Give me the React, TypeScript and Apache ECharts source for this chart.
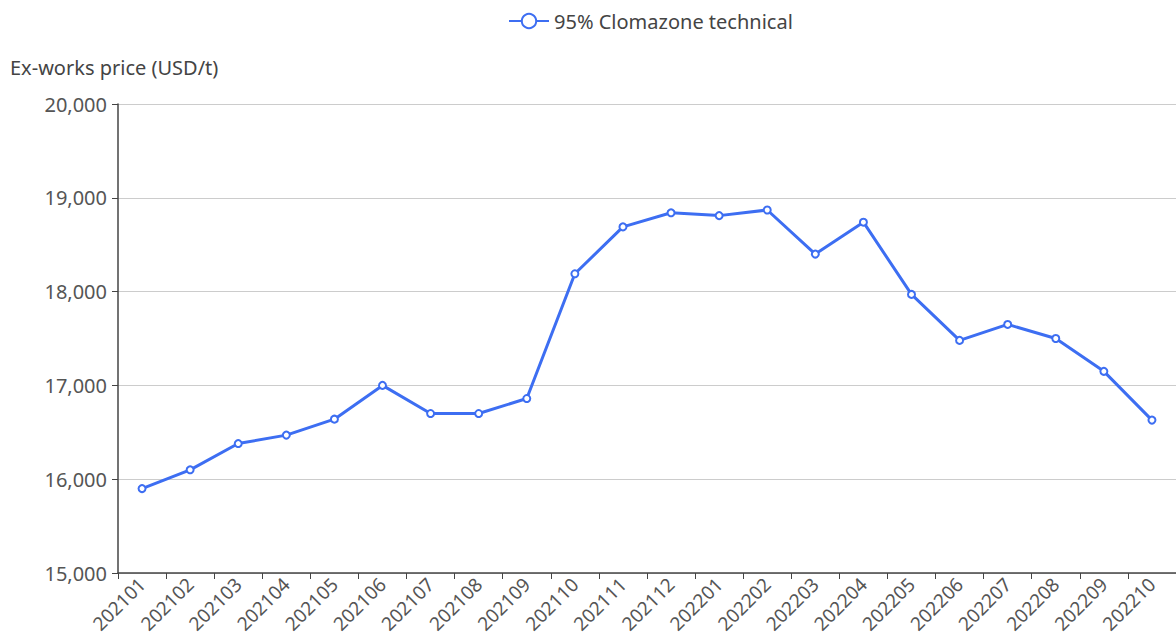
import React, { useEffect, useRef } from "react";
import * as echarts from "echarts";

const categories = [
  "202101", "202102", "202103", "202104", "202105", "202106", "202107", "202108",
  "202109", "202110", "202111", "202112", "202201", "202202", "202203", "202204",
  "202205", "202206", "202207", "202208", "202209", "202210",
];
const prices = [
  15900, 16100, 16380, 16470, 16640, 17000, 16700, 16700, 16860, 18190, 18690,
  18840, 18810, 18870, 18400, 18740, 17970, 17480, 17650, 17500, 17150, 16630,
];
const seriesName = "95% Clomazone technical";
const yAxisName = "Ex-works price (USD/t)";

const FONT = "'Noto Sans', 'Open Sans', sans-serif";

export default function App() {
  const ref = useRef<HTMLDivElement>(null);
  useEffect(() => {
    if (!ref.current) return;
    const chart = echarts.init(ref.current, undefined, { renderer: "svg" });
    chart.setOption({
      animation: false,
      textStyle: { fontFamily: FONT },
      legend: {
        data: [seriesName],
        left: 503,
        top: 6,
        itemWidth: 40,
        itemHeight: 18,
        itemGap: 10,
        textStyle: { fontSize: 20, color: "#444", fontFamily: FONT },
      },
      grid: { left: 118, right: -8, top: 104, bottom: 66, containLabel: false },
      xAxis: {
        type: "category",
        data: categories,
        boundaryGap: true,
        axisLine: { lineStyle: { color: "#444", width: 1.5 } },
        axisTick: { show: true, lineStyle: { color: "#444" }, length: 6 },
        axisLabel: {
          interval: 0,
          rotate: 45,
          fontSize: 19,
          color: "#555",
          fontFamily: FONT,
          margin: 8,
        },
      },
      yAxis: {
        type: "value",
        min: 15000,
        max: 20000,
        interval: 1000,
        name: yAxisName,
        nameLocation: "end",
        nameGap: 27,
        nameTextStyle: {
          fontSize: 20,
          color: "#444",
          align: "left",
          padding: [0, 0, 0, -108],
          fontFamily: FONT,
        },
        axisLine: { show: true, lineStyle: { color: "#444", width: 1.5 } },
        axisTick: { show: true, lineStyle: { color: "#444" }, length: 6 },
        axisLabel: {
          fontSize: 20,
          color: "#555",
          fontFamily: FONT,
          margin: 11,
          formatter: (v: number) => v.toLocaleString("en-US"),
        },
        splitLine: { lineStyle: { color: "#ccc", width: 1 } },
      },
      series: [
        {
          name: seriesName,
          type: "line",
          data: prices,
          symbol: "emptyCircle",
          symbolSize: 7,
          lineStyle: { color: "#3d6ef2", width: 3 },
          itemStyle: { color: "#3d6ef2", borderWidth: 1.5 },
        },
      ],
    });
    return () => chart.dispose();
  }, []);
  return (
    <div
      ref={ref}
      style={{ position: "fixed", left: 0, top: 0, width: 1176, height: 639, background: "#fff" }}
    />
  );
}
